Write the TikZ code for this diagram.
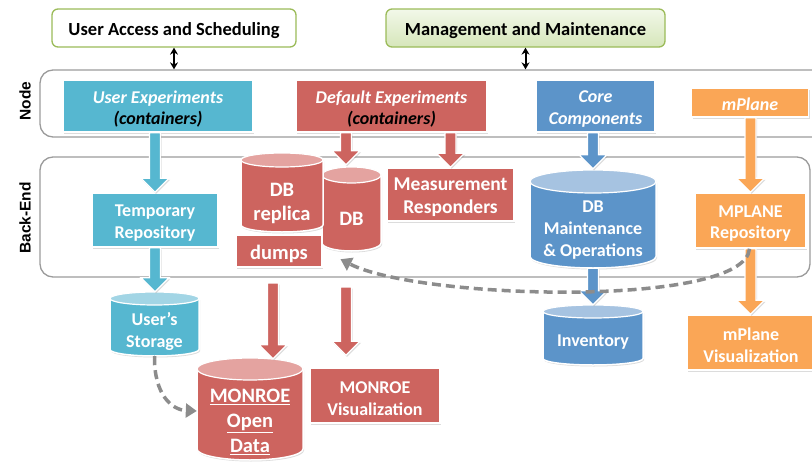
\documentclass[tikz,border=0pt]{standalone}
\usepackage{fontspec}
\setmainfont{Carlito}
\newfontfamily\labfont{Liberation Sans}
\usetikzlibrary{shadows,arrows.meta,calc}
\definecolor{cy}{RGB}{86,183,208}
\definecolor{cyl}{RGB}{162,213,229}
\definecolor{rd}{RGB}{205,100,95}
\definecolor{rdl}{RGB}{228,163,160}
\definecolor{bl}{RGB}{92,148,201}
\definecolor{bll}{RGB}{166,195,225}
\definecolor{og}{RGB}{250,166,86}
\definecolor{gr}{RGB}{155,187,89}
\definecolor{grt}{RGB}{242,248,233}
\definecolor{grb}{RGB}{214,230,186}
\definecolor{bandc}{RGB}{155,155,155}
\definecolor{dashc}{RGB}{140,140,140}
% cylinder: name, x1, y1, x2, y2, ry, body colour, top colour
\newcommand\mycyl[8]{%
  \path[cylbody, fill=#7] (#2,{#3+#6}) -- (#2,{#5-#6})
    arc[start angle=180, end angle=0, x radius={(#4-#2)/2}, y radius=#6]
    -- (#4,{#3+#6})
    arc[start angle=0, end angle=-180, x radius={(#4-#2)/2}, y radius=#6] -- cycle;
  \path[draw=white, line width=1.2pt, fill=#8] ({(#2+#4)/2},{#3+#6}) ellipse[x radius={(#4-#2)/2}, y radius=#6];
  \node[inner sep=0pt, minimum width={(#4-#2)*1pt}, minimum height={(#5-#3)*1pt}] (#1) at ({(#2+#4)/2},{(#3+#5)/2}) {};
}
% vertical block arrow: colour, start (gives x and top), end (gives tip y)
\newcommand\blockarrow[3]{%
  \path[barrowst, fill=#1] let \p1=(#2), \p2=(#3) in
    (\x1-5.5pt,\y1) -- (\x1+5.5pt,\y1) -- (\x1+5.5pt,\y2+14pt) -- (\x1+14pt,\y2+14pt)
    -- (\x1,\y2) -- (\x1-14pt,\y2+14pt) -- (\x1-5.5pt,\y2+14pt) -- cycle;
}
\begin{document}
\begin{tikzpicture}[x=1pt,y=-1pt,
  shad/.style={drop shadow={opacity=0.28, shadow xshift=1pt, shadow yshift=-1.5pt}},
  box/.style={draw=white, line width=1.5pt, inner sep=0pt, shad},
  btext/.style={text=white, align=center, inner sep=0pt, font=\bfseries\fontsize{18}{21.7}\selectfont},
  big/.style={font=\bfseries\fontsize{20.5}{24.5}\selectfont},
  title/.style={draw=gr, line width=1.3pt, rounded corners=6pt, inner sep=0pt},
  ttext/.style={text=black, inner sep=0pt, font=\bfseries\fontsize{18.5}{22}\selectfont},
  band/.style={draw=bandc, line width=1.3pt, rounded corners=13pt, inner sep=0pt},
  lab/.style={font=\labfont\bfseries\fontsize{15.5}{18}\selectfont, rotate=90, inner sep=0pt},
  dbl/.style={{Stealth[length=7pt,width=8pt]}-{Stealth[length=7pt,width=8pt]}, line width=2pt, black},
  dashconn/.style={draw=dashc, line width=3.5pt, dash pattern=on 9pt off 5pt,
    -{Triangle[length=11pt,width=14pt]}},
  cylbody/.style={draw=white, line width=1.5pt, shad},
  barrowst/.style={draw=white, line width=1.3pt, line join=miter, shad},
]
\useasboundingbox (0,0) rectangle (812,466);
\clip (0,0) rectangle (812,466);

% bands
\node[band, minimum width=800pt, minimum height=67pt] (nodeband) at (440,103.5) {};
\node[band, minimum width=770pt, minimum height=120pt] (beband) at (425,217) {};
\node[lab] (nodelab) at (25,101) {Node};
\node[lab] (belab) at (25,218) {Back-End};

% top boxes
\node[title, fill=white, minimum width=244pt, minimum height=38pt] (uas) at (174,28) {};
\node[ttext] (uas-t) at ([yshift=-2.5pt]uas.center) {User Access and Scheduling};
\node[title, top color=grt, bottom color=grb, minimum width=279pt, minimum height=38pt] (mm) at (525.5,28) {};
\node[ttext] (mm-t) at ([yshift=-2.5pt]mm.center) {Management and Maintenance};
\draw[dbl] (uas.south) -- (uas.south |- nodeband.north);
\draw[dbl] (mm.south) -- (mm.south |- nodeband.north);

% node boxes
\node[box, fill=cy, minimum width=190pt, minimum height=52pt] (ue) at (158,106) {};
\node[btext] (ue-t) at ([yshift=-3pt]ue.center) {\itshape User Experiments\\{\color{black}\itshape (containers)}};
\node[box, fill=rd, minimum width=191pt, minimum height=52pt] (de) at (391.5,106) {};
\node[btext] (de-t) at ([yshift=-3pt]de.center) {\itshape Default Experiments\\{\color{black}\itshape (containers)}};
\node[box, fill=bl, minimum width=119pt, minimum height=52pt] (cc) at (595.5,106) {};
\node[btext] (cc-t) at ([yshift=-3pt]cc.center) {\itshape Core\\\itshape Components};
\node[box, fill=og, minimum width=117pt, minimum height=29pt] (mp) at (750,102.5) {};
\node[btext] (mp-t) at ([yshift=-2pt]mp.center) {\itshape mPlane};

% back-end
\node[box, fill=cy, minimum width=126pt, minimum height=54pt] (tmp) at (155,220) {};
\node[btext] (tmp-t) at ([yshift=-3pt]tmp.center) {Temporary\\Repository};
\mycyl{db}{322}{167}{381}{251}{8}{rd}{rdl}
\node[btext, big] (db-t) at ([yshift=-10pt]db.center) {DB};
\mycyl{dbrep}{241}{153}{323}{232}{7}{rd}{rdl}
\node[btext, big] (dbrep-t) at ([yshift=-11pt]dbrep.center) {DB\\replica};
\node[box, fill=rd, minimum width=86pt, minimum height=32pt] (dumps) at (279,251) {};
\node[btext, big] (dumps-t) at ([yshift=-2.5pt]dumps.center) {dumps};
\node[box, fill=rd, minimum width=127pt, minimum height=53pt] (mr) at (450.5,194.5) {};
\node[btext, font=\bfseries\fontsize{19.5}{23}\selectfont] (mr-t) at ([yshift=-3pt]mr.center) {Measurement\\Responders};
\mycyl{dbm}{530}{170}{656}{268}{11.5}{bl}{bll}
\node[btext] (dbm-t) at ([yshift=-11pt]dbm.center) {DB\\Maintenance\\{\char38} Operations};
\node[box, fill=og, minimum width=111pt, minimum height=55pt] (mpr) at (750.5,220.5) {};
\node[btext] (mpr-t) at ([yshift=-3pt]mpr.center) {MPLANE\\Repository};

% bottom
\mycyl{us}{110}{292}{199}{356}{6.5}{cy}{cyl}
\node[btext] (us-t) at ([yshift=-7.5pt]us.center) {User’s\\Storage};
\mycyl{mod}{197}{358}{303}{460}{11}{rd}{rdl}
\node[btext, font=\bfseries\fontsize{20.5}{25}\selectfont] (mod-t) at ([yshift=-13pt]mod.center)
  {\underline{MONROE}\\\underline{Open}\\\underline{Data}};
\node[box, fill=rd, minimum width=130pt, minimum height=55pt] (mv) at (375,395.5) {};
\node[btext] (mv-t) at ([yshift=-3pt]mv.center) {MONROE\\Visualization};
\mycyl{inv}{543}{305}{643}{365}{6.5}{bl}{bll}
\node[btext] (inv-t) at ([yshift=-7pt]inv.center) {Inventory};
\node[box, fill=og, minimum width=128pt, minimum height=55pt] (mpv) at (751,342.5) {};
\node[btext] (mpv-t) at ([yshift=-3pt]mpv.center) {mPlane\\Visualization};

% block arrows
\coordinate (s1) at (273,283);
\coordinate (s2) at (346,287);
\blockarrow{cy}{ue.south -| tmp.north}{tmp.north}
\blockarrow{rd}{[xshift=-45.5pt]de.south}{[yshift=2pt]db.north}
\blockarrow{rd}{de.south -| mr.north}{mr.north}
\blockarrow{bl}{cc.south -| dbm.north}{[yshift=1pt]dbm.north}
\blockarrow{og}{mp.south -| mpr.north}{mpr.north}
\blockarrow{cy}{tmp.south}{us.north}
\blockarrow{rd}{s1}{[yshift=-1pt]mod.north}
\blockarrow{rd}{s2}{[yshift=12pt]mv.north}
\blockarrow{bl}{dbm.south}{inv.north}
\blockarrow{og}{mpr.south}{mpv.north}

% dashed connectors
\draw[dashconn] (us.south) .. controls (154,395) and (172,410) .. ([yshift=-2pt]mod.west);
\draw[dashconn] ([xshift=-1pt]mpr.south) .. controls (745,308) and (420,300) .. ([xshift=-11pt,yshift=-8pt]db.south);
\end{tikzpicture}
\end{document}
